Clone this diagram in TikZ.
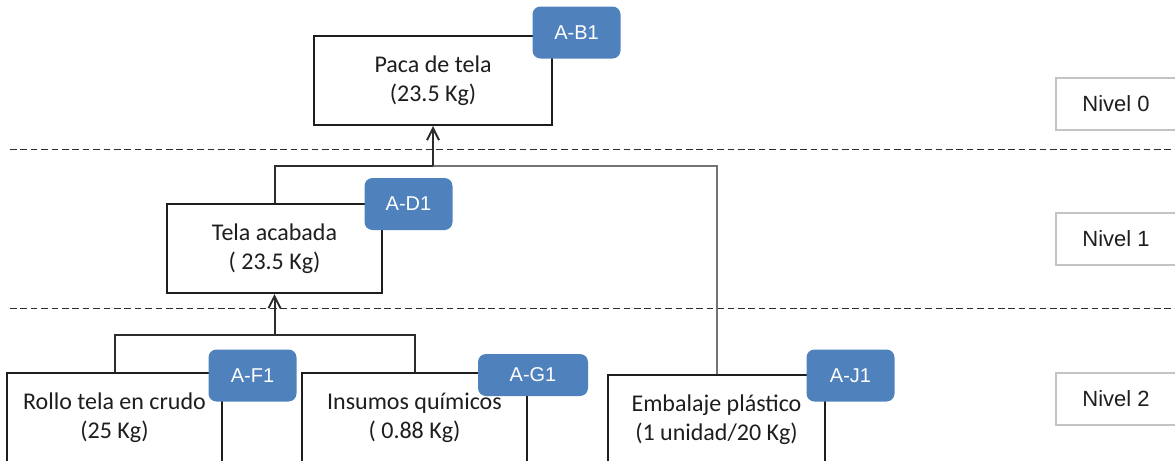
\documentclass[tikz,border=0pt]{standalone}
\usepackage{fontspec}
\setmainfont{Carlito}
\newfontfamily\tagfont{Liberation Sans}
\usepackage{tikz}
\usetikzlibrary{arrows.meta,calc}
\definecolor{tagblue}{RGB}{79,129,189}
\definecolor{inkgray}{RGB}{30,30,30}
\definecolor{linegray}{RGB}{45,45,45}
\definecolor{palegray}{RGB}{195,195,195}

\begin{document}
\begin{tikzpicture}[
  x=.5pt, y=-.5pt,
  item/.style={
    draw=inkgray,
    line width=1pt,
    fill=white,
    minimum width=107.5pt,
    minimum height=44.5pt,
    align=center,
    text=inkgray,
    font=\fontsize{12}{14.5}\selectfont
  },
  tag/.style={
    fill=tagblue,
    rounded corners=4pt,
    minimum width=44pt,
    minimum height=26pt,
    inner sep=0pt,
    text=white,
    font=\tagfont\fontsize{10}{12}\selectfont
  },
  level/.style={
    draw=palegray,
    line width=.6pt,
    minimum width=60pt,
    minimum height=26pt,
    text=inkgray,
    font=\tagfont\fontsize{11}{13}\selectfont
  },
  link/.style={draw=linegray,line width=1pt},
  up/.style={link,-{Straight Barb[length=6pt,width=6pt]}},
  sep/.style={draw=linegray,line width=.9pt,dash pattern=on 3.3pt off 1.9pt}
]
\useasboundingbox (0,0) rectangle (1175,461);
\clip (0,0) rectangle (1175,461);

% level separators
\draw[sep] (10,149.5) -- (1175,149.5);
\draw[sep] (10,308.5) -- (1175,308.5);

% components
\node[item,minimum width=119pt] (b1) at (433,80.5) {Paca de tela\\(23.5 Kg)};
\node[item] (d1) at (274.5,248.5) {Tela acabada\\( 23.5 Kg)};
\node[item] (f1) at (114.5,417.5) {Rollo tela en crudo\\(25 Kg)};
\node[item,minimum width=112.5pt] (g1) at (414.5,417.5) {Insumos químicos\\( 0.88 Kg)};
\node[item,minimum width=108.5pt] (j1) at (716.5,419.5) {Embalaje plástico\\(1 unidad/20 Kg)};

% codes
\node[tag] (b1tag) at ($(b1.north east)+(23.5,-2.5)$) {A-B1};
\node[tag] (d1tag) at ($(d1.north east)+(25.5,1)$) {A-D1};
\node[tag] (f1tag) at ($(f1.north east)+(29.5,3.5)$) {A-F1};
\node[tag,minimum width=55pt,minimum height=21pt]
  (g1tag) at ($(g1.north east)+(5,3)$) {A-G1};
\node[tag] (j1tag) at ($(j1.north east)+(24.5,1.5)$) {A-J1};

% levels
\node[level] (n0) at (1116,104) {Nivel 0};
\node[level] (n1) at (1116,239) {Nivel 1};
\node[level] (n2) at (1116,399) {Nivel 2};

% tree links
\coordinate (bus0) at ($(b1.south)+(0,40)$);
\coordinate (bus1) at ($(d1.south)+(0,41)$);
\draw[link] (d1.north) |- (bus0);
\draw[link,draw=black!55] (bus0) -| (j1.north);
\draw[up] (bus0) -- (b1.south);
\draw[link] (f1.north) |- (bus1) -| (g1.north);
\draw[up] (bus1) -- (d1.south);
\end{tikzpicture}
\end{document}
